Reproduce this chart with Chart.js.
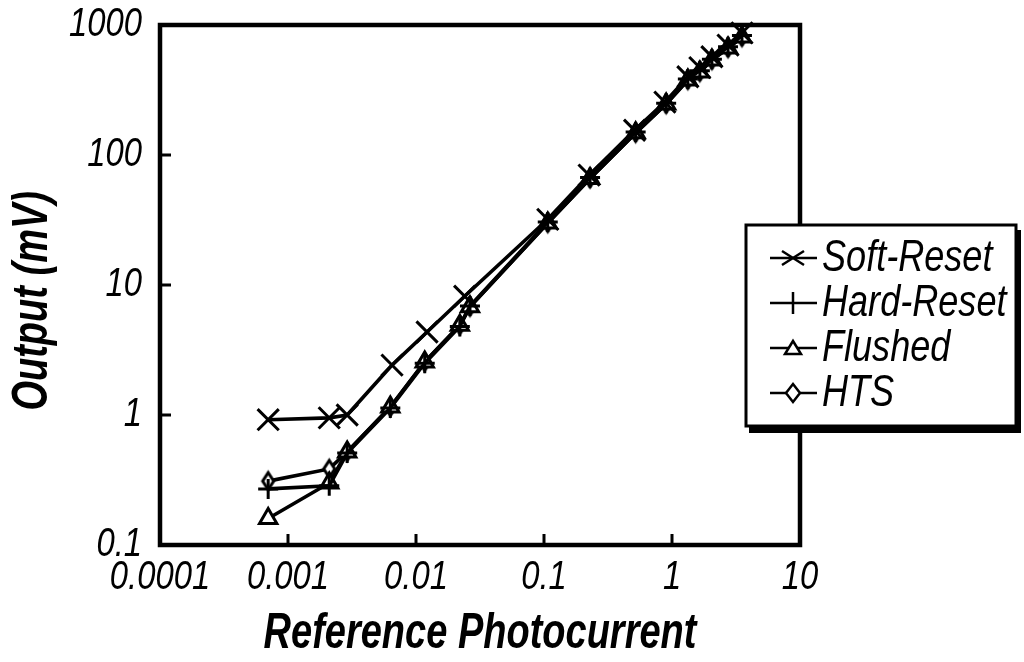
<!DOCTYPE html>
<html><head><meta charset="utf-8">
<script src="https://cdn.jsdelivr.net/npm/chart.js@4/dist/chart.umd.min.js"></script>
<style>html,body{margin:0;padding:0;background:#fff;}#wrap{width:1024px;height:662px;position:relative;}</style>
</head><body><div id="wrap"><canvas id="c" width="1024" height="662"></canvas></div>
<script>
// ---------- data ----------
const seriesNames = ['Soft-Reset', 'Hard-Reset', 'Flushed', 'HTS'];
const softX  = [0.0007, 0.0021, 0.0029, 0.0065, 0.0122, 0.024, 0.107, 0.225, 0.51, 0.88, 1.33, 1.65, 2.05, 2.74, 3.52];
const softY  = [0.92, 0.95, 1.0, 2.42, 4.35, 8.2, 32, 70, 155, 255, 400, 470, 570, 700, 870];
const hardX  = [0.0007, 0.0021, 0.0029, 0.0063, 0.0117, 0.022, 0.0264, 0.107, 0.229, 0.52, 0.9, 1.33, 1.65, 2.05, 2.74, 3.52];
const hardY  = [0.27, 0.285, 0.51, 1.13, 2.5, 4.8, 6.9, 30.5, 67, 150, 250, 385, 445, 545, 680, 830];
const flushX = [0.0007, 0.0021, 0.0029, 0.0063, 0.0117, 0.022, 0.0264, 0.107, 0.229, 0.52, 0.9, 1.33, 1.65, 2.05, 2.74, 3.52];
const flushY = [0.16, 0.30, 0.52, 1.15, 2.56, 4.9, 6.8, 30, 66, 148, 247, 378, 435, 538, 666, 809];
const htsX   = [0.0007, 0.0021, 0.0029, 0.0063, 0.0117, 0.022, 0.0264, 0.107, 0.229, 0.52, 0.9, 1.33, 1.65, 2.05, 2.74, 3.52];
const htsY   = [0.31, 0.385, 0.52, 1.15, 2.56, 4.9, 6.8, 30, 66, 148, 247, 378, 435, 538, 666, 809];
const xTickValues = [0.0001, 0.001, 0.01, 0.1, 1, 10];
const xTickLabels = ['0.0001', '0.001', '0.01', '0.1', '1', '10'];
const yTickValues = [0.1, 1, 10, 100, 1000];
const yTickLabels = ['0.1', '1', '10', '100', '1000'];
const xTitle = 'Reference Photocurrent';
const yTitle = 'Output (mV)';

// ---------- fonts: condensed rendering of real text ----------
const FAM = '"Liberation Sans", Arial, sans-serif';
const canvas = document.getElementById('c');
const ctx0 = canvas.getContext('2d');
const origFillText = ctx0.fillText.bind(ctx0);
ctx0.fillText = function (text, x, y, maxWidth) {
  const sq = /bold/.test(this.font) ? 0.76 : 0.82;
  this.save();
  this.translate(x, y);
  this.scale(sq, 1);
  if (maxWidth !== undefined) origFillText(text, 0, 0, maxWidth / sq);
  else origFillText(text, 0, 0);
  this.restore();
};

// ---------- markers ----------
function diamondCanvas(w, h, lw) {
  const c = document.createElement('canvas');
  c.width = w + lw * 2 + 2; c.height = h + lw * 2 + 2;
  const g = c.getContext('2d');
  const cx = c.width / 2, cy = c.height / 2;
  g.beginPath();
  g.moveTo(cx, cy - h / 2); g.lineTo(cx + w / 2, cy); g.lineTo(cx, cy + h / 2); g.lineTo(cx - w / 2, cy); g.closePath();
  g.fillStyle = '#fff'; g.fill();
  g.lineWidth = lw; g.strokeStyle = '#000'; g.stroke();
  return c;
}
const diamondImg = diamondCanvas(11, 17, 3);

function pts(xs, ys) { return xs.map((x, i) => ({x: x, y: ys[i]})); }

const common = {borderColor: '#000', borderWidth: 3.6, pointBorderColor: '#000', pointBackgroundColor: '#fff',
  pointBorderWidth: 3, tension: 0, showLine: true, clip: false, fill: false};

const datasets = [
  Object.assign({}, common, {label: seriesNames[0], data: pts(softX, softY), pointStyle: 'crossRot', pointRadius: 15}),
  Object.assign({}, common, {label: seriesNames[1], data: pts(hardX, hardY), pointStyle: 'cross', pointRadius: 10}),
  Object.assign({}, common, {label: seriesNames[2], data: pts(flushX, flushY), pointStyle: 'triangle', pointRadius: 10}),
  Object.assign({}, common, {label: seriesNames[3], data: pts(htsX, htsY), pointStyle: diamondImg, pointRadius: 9})
];

// ---------- plugins ----------
const framePlugin = {
  id: 'frame',
  beforeDatasetsDraw(chart) {
    const {ctx, chartArea: a, scales} = chart;
    ctx.save();
    ctx.strokeStyle = '#000';
    ctx.lineWidth = 4.5;
    ctx.strokeRect(a.left, a.top, a.right - a.left, a.bottom - a.top);
    ctx.lineWidth = 3;
    ctx.beginPath();
    scales.x.ticks.forEach(t => {
      const px = scales.x.getPixelForValue(t.value);
      if (px > a.left + 3 && px < a.right - 3) { ctx.moveTo(px, a.bottom); ctx.lineTo(px, a.bottom - 11); }
    });
    scales.y.ticks.forEach(t => {
      const py = scales.y.getPixelForValue(t.value);
      if (py > a.top + 3 && py < a.bottom - 3) { ctx.moveTo(a.left, py); ctx.lineTo(a.left + 11, py); }
    });
    ctx.stroke();
    ctx.restore();
  }
};

function legendMarker(ctx, kind, x, y) {
  ctx.beginPath();
  if (kind === 0) { ctx.moveTo(x - 11, y - 7); ctx.lineTo(x + 11, y + 7); ctx.moveTo(x - 11, y + 7); ctx.lineTo(x + 11, y - 7); ctx.stroke(); }
  else if (kind === 1) { ctx.moveTo(x, y - 11); ctx.lineTo(x, y + 11); ctx.stroke(); }
  else if (kind === 2) { ctx.moveTo(x, y - 7); ctx.lineTo(x + 8, y + 6); ctx.lineTo(x - 8, y + 6); ctx.closePath(); ctx.fillStyle = '#fff'; ctx.fill(); ctx.stroke(); }
  else { ctx.moveTo(x, y - 9); ctx.lineTo(x + 7, y); ctx.lineTo(x, y + 9); ctx.lineTo(x - 7, y); ctx.closePath(); ctx.fillStyle = '#fff'; ctx.fill(); ctx.stroke(); }
}

const legendPlugin = {
  id: 'boxLegend',
  afterDraw(chart) {
    const ctx = chart.ctx;
    const bx = 746, by = 225, bw = 270, bh = 201;
    ctx.save();
    ctx.fillStyle = '#000';
    ctx.fillRect(bx + 3, by + 5, bw + 2, bh + 2);
    ctx.fillStyle = '#fff';
    ctx.fillRect(bx, by, bw, bh);
    ctx.lineWidth = 3; ctx.strokeStyle = '#000';
    ctx.strokeRect(bx, by, bw, bh);
    ctx.font = 'italic 44px ' + FAM;
    ctx.textBaseline = 'middle';
    ctx.textAlign = 'left';
    seriesNames.forEach((name, i) => {
      const y = by + 33 + i * 45;
      ctx.lineWidth = 2.5;
      ctx.beginPath(); ctx.moveTo(770, y); ctx.lineTo(817, y); ctx.stroke();
      legendMarker(ctx, i, 793, y);
      ctx.fillStyle = '#000';
      ctx.fillText(name, 822, y + 1);
    });
    ctx.restore();
  }
};

// ---------- chart ----------
const tickFont = {family: FAM, size: 40, style: 'italic', lineHeight: 1.2};
const titleFont = {family: FAM, size: 50, style: 'italic', weight: 'bold', lineHeight: 1.1};

new Chart(canvas, {
  type: 'scatter',
  data: {datasets: datasets},
  options: {
    responsive: false,
    animation: false,
    devicePixelRatio: 1,
    layout: {padding: {left: 0, top: 25, right: 224, bottom: 0}},
    plugins: {legend: {display: false}, tooltip: {enabled: false}},
    scales: {
      x: {
        type: 'logarithmic', position: 'bottom', min: 0.0001, max: 10,
        afterBuildTicks: s => { s.ticks = xTickValues.map(v => ({value: v, major: true})); },
        afterFit: s => { s.height = 117; s.paddingLeft = 0; s.paddingRight = 0; },
        grid: {display: false, drawTicks: false},
        border: {display: false},
        ticks: {autoSkip: false, maxRotation: 0, minRotation: 0, padding: 9, color: '#000', font: tickFont,
          callback: (v, i) => xTickLabels[i]},
        title: {display: true, text: xTitle, color: '#000', font: titleFont, padding: {top: 0, bottom: 0}}
      },
      y: {
        type: 'logarithmic', position: 'left', min: 0.1, max: 1000,
        afterBuildTicks: s => { s.ticks = yTickValues.map(v => ({value: v, major: true})); },
        afterFit: s => { s.width = 160; s.paddingTop = 0; s.paddingBottom = 0; },
        grid: {display: false, drawTicks: false},
        border: {display: false},
        ticks: {autoSkip: false, padding: 18, color: '#000', font: tickFont,
          callback: (v, i) => yTickLabels[i]},
        title: {display: true, text: yTitle + '   ', color: '#000', font: titleFont, padding: {top: 6, bottom: 0}}
      }
    }
  },
  plugins: [framePlugin, legendPlugin]
});
</script>
</body></html>
